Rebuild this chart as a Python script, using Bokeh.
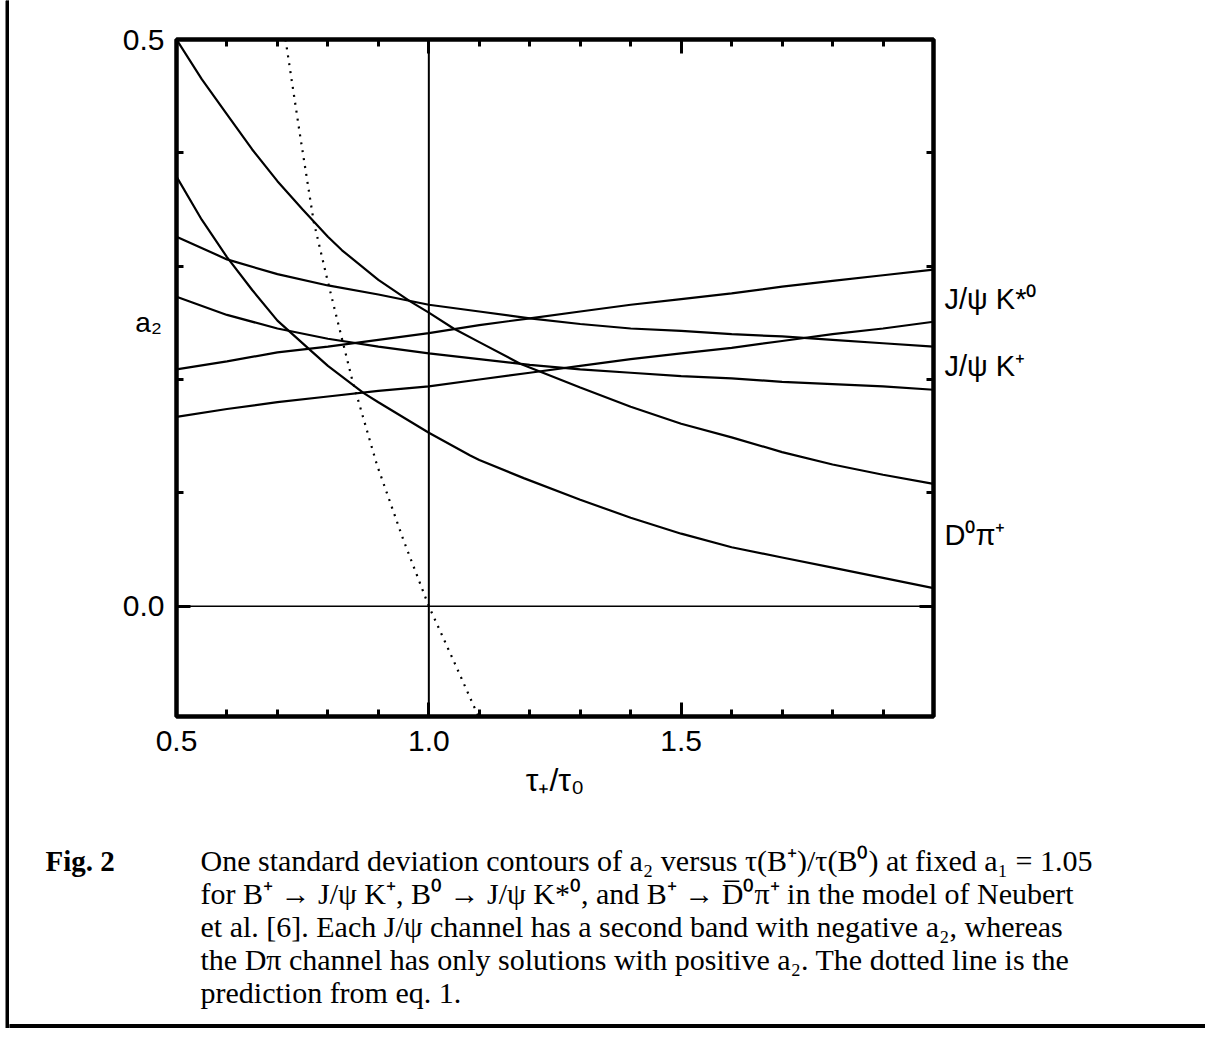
from bokeh.plotting import figure
from bokeh.models import (Range1d, FixedTicker, LinearAxis, PrintfTickFormatter,
                          Span, Label)
from bokeh.layouts import row, column
from bokeh.embed import file_html
from bokeh.resources import INLINE

# ---------------- data ----------------
tau_grid = [0.5, 0.6, 0.7, 0.8, 0.9, 1.0, 1.1, 1.2, 1.3, 1.4, 1.5, 1.6, 1.7, 1.8, 1.9, 2.0]

# J/psi K*0 band (rising lines)
kstar_hi = [0.209, 0.216, 0.224, 0.229, 0.235, 0.241, 0.248, 0.254, 0.260, 0.266, 0.271, 0.276, 0.282, 0.287, 0.292, 0.297]
kstar_lo = [0.167, 0.174, 0.180, 0.185, 0.190, 0.194, 0.200, 0.206, 0.212, 0.218, 0.223, 0.228, 0.234, 0.240, 0.245, 0.251]

# J/psi K+ band (falling lines)
kplus_hi = [0.326, 0.306, 0.293, 0.283, 0.275, 0.266, 0.260, 0.254, 0.249, 0.245, 0.243, 0.240, 0.238, 0.235, 0.232, 0.229]
kplus_lo = [0.273, 0.257, 0.245, 0.236, 0.229, 0.223, 0.218, 0.213, 0.209, 0.206, 0.203, 0.201, 0.198, 0.196, 0.194, 0.191]

# D0 pi+ band
dpi_hi_tau = [0.5, 0.55, 0.6, 0.65, 0.7, 0.75, 0.8, 0.828, 0.9, 0.963, 1.0, 1.049, 1.1, 1.181,
              1.3, 1.4, 1.5, 1.6, 1.7, 1.8, 1.9, 2.0]
dpi_hi = [0.500, 0.465, 0.434, 0.403, 0.375, 0.350, 0.326, 0.314, 0.288, 0.269, 0.259, 0.245, 0.233, 0.214,
          0.193, 0.176, 0.161, 0.149, 0.136, 0.125, 0.116, 0.108]
dpi_lo_tau = [0.5, 0.55, 0.6, 0.65, 0.7, 0.765, 0.8, 0.871, 0.9, 1.0, 1.082, 1.1, 1.188,
              1.3, 1.4, 1.5, 1.6, 1.7, 1.8, 1.9, 2.0]
dpi_lo = [0.379, 0.341, 0.308, 0.279, 0.252, 0.226, 0.212, 0.188, 0.180, 0.153, 0.133, 0.129, 0.113,
          0.094, 0.078, 0.064, 0.052, 0.043, 0.034, 0.025, 0.016]

# dotted prediction (eq. 1)
pred_tau = [0.716, 0.745, 0.772, 0.80, 0.848, 0.897, 0.95, 1.0, 1.05, 1.098]
pred_a2 = [0.500, 0.415, 0.339, 0.286, 0.200, 0.125, 0.058, 0.0, -0.049, -0.097]

x_major = [0.5, 1.0, 1.5]
x_minor = [0.6, 0.7, 0.8, 0.9, 1.1, 1.2, 1.3, 1.4, 1.6, 1.7, 1.8, 1.9]
y_major = [0.0, 0.5]
y_minor = [0.1, 0.2, 0.3, 0.4]

band_labels = ["J/\u03c8 K*\u2070", "J/\u03c8 K\u207a", "D\u2070\u03c0\u207a"]
band_label_a2 = [0.271, 0.212, 0.063]   # a2 level of each label's baseline

caption_head = "Fig. 2"
caption_lines = [
    "One standard deviation contours of a\u2082 versus \u03c4(B\u207a)/\u03c4(B\u2070) at fixed a\u2081 = 1.05",
    "for B\u207a \u2192 J/\u03c8 K\u207a, B\u2070 \u2192 J/\u03c8 K*\u2070, and B\u207a \u2192 D\u0305\u2070\u03c0\u207a in the model of Neubert",
    "et al. [6]. Each J/\u03c8 channel has a second band with negative a\u2082, whereas",
    "the D\u03c0 channel has only solutions with positive a\u2082.  The dotted line is the",
    "prediction from eq. 1.",
]

SANS = "Liberation Sans"
SERIF = "Liberation Serif"

# ---------------- layout sizes (px) ----------------
TOTAL_W, TOTAL_H = 1205, 1028
RULE_W = 9
MAIN_BL, MAIN_BR, MAIN_BT, MAIN_BB = 167, 5, 39, 84
FRAME_W, FRAME_H = 757, 677
MAIN_W = MAIN_BL + FRAME_W + MAIN_BR
MAIN_H = MAIN_BT + FRAME_H + MAIN_BB
SIDE_W = TOTAL_W - RULE_W - MAIN_W
CAP_W = TOTAL_W - RULE_W
CAP_H = TOTAL_H - MAIN_H

yr = Range1d(-0.0973, 0.5)

# ---------------- main plot ----------------
p = figure(width=MAIN_W, height=MAIN_H, output_backend="svg", toolbar_location=None,
           x_range=Range1d(0.5, 2.0), y_range=yr,
           min_border_left=MAIN_BL, min_border_right=MAIN_BR,
           min_border_top=MAIN_BT, min_border_bottom=MAIN_BB,
           x_axis_location=None, y_axis_location=None)
p.grid.visible = False
p.outline_line_color = "black"
p.outline_line_width = 4.5
p.background_fill_color = "white"
p.border_fill_color = "white"


def style_axis(ax, ticks, minor, show_labels, standoff):
    ax.ticker = FixedTicker(ticks=ticks, minor_ticks=minor)
    ax.formatter = PrintfTickFormatter(format="%.1f")
    ax.axis_line_color = None
    ax.major_tick_in = 14
    ax.major_tick_out = 0
    ax.minor_tick_in = 7
    ax.minor_tick_out = 0
    ax.major_tick_line_width = 3
    ax.minor_tick_line_width = 3
    ax.major_tick_line_color = "black"
    ax.minor_tick_line_color = "black"
    ax.major_label_text_font = SANS
    if show_labels:
        ax.major_label_text_font_size = "30px"
        ax.major_label_text_color = "black"
        ax.major_label_standoff = standoff
    else:
        ax.major_label_text_font_size = "0px"
        ax.major_label_text_color = None
        ax.major_label_standoff = 0


bottom = LinearAxis(axis_label="\u03c4\u208a/\u03c4\u2080")
style_axis(bottom, x_major, x_minor, True, 14)
bottom.axis_label_text_font = SANS
bottom.axis_label_text_font_size = "32px"
bottom.axis_label_text_font_style = "normal"
bottom.axis_label_text_color = "black"
bottom.axis_label_standoff = 8
p.add_layout(bottom, "below")

top = LinearAxis()
style_axis(top, x_major, x_minor, False, 0)
p.add_layout(top, "above")

# the a2 label sits above the axis centre; trailing empty lines lift it
left = LinearAxis(axis_label="a\u2082\n\n\n")
style_axis(left, y_major, y_minor, True, 12)
left.axis_label_orientation = "horizontal"
left.axis_label_text_font = SANS
left.axis_label_text_font_size = "28px"
left.axis_label_text_font_style = "normal"
left.axis_label_text_color = "black"
left.axis_label_standoff = -42
p.add_layout(left, "left")

right = LinearAxis()
style_axis(right, y_major, y_minor, False, 0)
p.add_layout(right, "right")

p.add_layout(Span(location=0.0, dimension="width", line_color="black", line_width=1.5))
p.add_layout(Span(location=1.0, dimension="height", line_color="black", line_width=2))

for xs, ys in [(tau_grid, kstar_hi), (tau_grid, kstar_lo), (tau_grid, kplus_hi),
               (tau_grid, kplus_lo), (dpi_hi_tau, dpi_hi), (dpi_lo_tau, dpi_lo)]:
    p.line(xs, ys, line_color="black", line_width=2.2)
p.line(pred_tau, pred_a2, line_color="black", line_width=2.2, line_dash="2 6")


def blank(fig):
    fig.grid.visible = False
    fig.outline_line_color = None
    fig.background_fill_color = "white"
    fig.border_fill_color = "white"


# ---------------- band labels at the right, sharing the a2 scale ----------------
side = figure(width=SIDE_W, height=MAIN_H, output_backend="svg", toolbar_location=None,
              x_range=Range1d(0, SIDE_W), y_range=yr,
              min_border_left=0, min_border_right=0,
              min_border_top=MAIN_BT, min_border_bottom=MAIN_BB,
              x_axis_location=None, y_axis_location=None)
blank(side)
for txt, a2 in zip(band_labels, band_label_a2):
    side.add_layout(Label(x=6, y=a2, text=txt, text_font=SANS, text_font_size="29px",
                          text_baseline="alphabetic", text_color="black"))

# ---------------- caption ----------------
cap = figure(width=CAP_W, height=CAP_H, output_backend="svg", toolbar_location=None,
             x_range=Range1d(0, CAP_W), y_range=Range1d(CAP_H, 0),
             min_border=0, x_axis_location=None, y_axis_location=None)
blank(cap)
cap.add_layout(Label(x=36, y=60, text=caption_head, text_font=SERIF, text_font_size="29px",
                     text_font_style="bold", text_baseline="alphabetic", text_color="black"))
for i, line in enumerate(caption_lines):
    cap.add_layout(Label(x=191, y=60 + 33 * i, text=line, text_font=SERIF,
                         text_font_size="30px", text_baseline="alphabetic",
                         text_color="black"))
cap.quad(left=[0], right=[CAP_W], top=[CAP_H - 4], bottom=[CAP_H], color="black")

# ---------------- left page rule ----------------
rule = figure(width=RULE_W, height=TOTAL_H, output_backend="svg", toolbar_location=None,
              x_range=Range1d(0, RULE_W), y_range=Range1d(0, TOTAL_H),
              min_border=0, x_axis_location=None, y_axis_location=None)
blank(rule)
rule.quad(left=[5.5], right=[8.5], bottom=[0], top=[TOTAL_H], color="black")

layout = row(rule, column(row(p, side), cap))
open("out.html", "w").write(file_html(layout, INLINE))
